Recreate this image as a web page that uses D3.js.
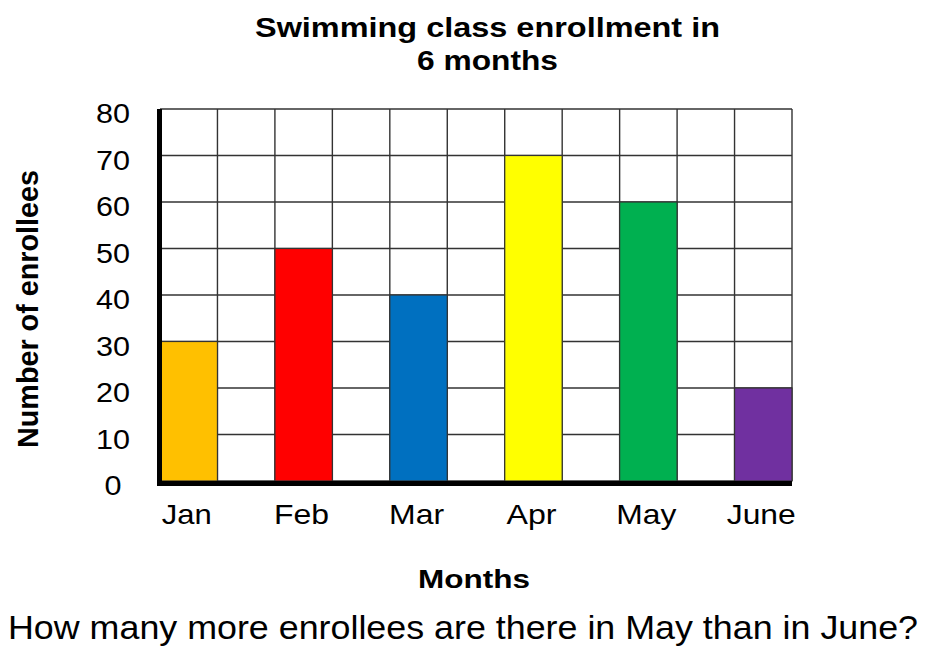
<!DOCTYPE html>
<html>
<head>
<meta charset="utf-8">
<script src="https://cdn.jsdelivr.net/npm/d3@7"></script>
<style>
  html, body { margin: 0; padding: 0; background: #fff; }
  text { font-family: "Liberation Sans", Arial, sans-serif; fill: #000; }
</style>
</head>
<body>
<svg id="chart"></svg>
<script>
// data
const months = ["Jan", "Feb", "Mar", "Apr", "May", "June"];
const enrollees = [30, 50, 40, 70, 60, 20];
const barColors = ["#FFC000", "#FF0000", "#0070C0", "#FFFF00", "#00B050", "#7030A0"];
const yTicks = [0, 10, 20, 30, 40, 50, 60, 70, 80];

const width = 940, height = 657;
const plot = { left: 160, right: 792, top: 109, bottom: 481 };

const svg = d3.select("#chart")
    .attr("width", width)
    .attr("height", height);

const x = d3.scaleBand()
    .domain(months)
    .range([plot.left, plot.right])
    .paddingInner(0.5)
    .paddingOuter(0);

const y = d3.scaleLinear()
    .domain([0, 80])
    .range([plot.bottom, plot.top]);

// horizontal grid
svg.append("g")
    .selectAll("line")
    .data(yTicks)
    .enter()
    .append("line")
    .attr("x1", plot.left).attr("x2", plot.right)
    .attr("y1", d => y(d)).attr("y2", d => y(d))
    .attr("stroke", "#333").attr("stroke-width", 1.4);

// vertical grid: both edges of every bar slot
const edges = [];
months.forEach(m => { edges.push(x(m)); edges.push(x(m) + x.bandwidth()); });
svg.append("g")
    .selectAll("line")
    .data(edges)
    .enter()
    .append("line")
    .attr("x1", d => d).attr("x2", d => d)
    .attr("y1", plot.top).attr("y2", plot.bottom)
    .attr("stroke", "#333").attr("stroke-width", 1.4);

// bars
svg.append("g")
    .selectAll("rect")
    .data(months)
    .enter()
    .append("rect")
    .attr("x", d => x(d))
    .attr("width", x.bandwidth())
    .attr("y", (d, i) => y(enrollees[i]))
    .attr("height", (d, i) => y(0) - y(enrollees[i]))
    .attr("fill", (d, i) => barColors[i])
    .attr("stroke", "#333")
    .attr("stroke-width", 1.2);

// thick axes
svg.append("line")
    .attr("x1", plot.left - 0.5).attr("x2", plot.left - 0.5)
    .attr("y1", plot.top).attr("y2", plot.bottom + 5)
    .attr("stroke", "#000").attr("stroke-width", 5);
svg.append("line")
    .attr("x1", plot.left - 3).attr("x2", plot.right)
    .attr("y1", plot.bottom + 2.5).attr("y2", plot.bottom + 2.5)
    .attr("stroke", "#000").attr("stroke-width", 5);

// y tick labels
svg.append("g")
    .selectAll("text")
    .data(yTicks)
    .enter()
    .append("text")
    .attr("x", 113)
    .attr("y", d => y(d) + 14)
    .attr("text-anchor", "middle")
    .attr("font-size", 28)
    .attr("textLength", 34)
    .attr("lengthAdjust", "spacingAndGlyphs")
    .text(d => d)
    .filter(d => d < 10)
    .attr("textLength", 17);

// month labels
const monthWidths = [50, 55, 55, 50, 60, 69];
svg.append("g")
    .selectAll("text")
    .data(months)
    .enter()
    .append("text")
    .attr("x", d => x(d) + x.bandwidth() / 2 - 2)
    .attr("y", 524)
    .attr("text-anchor", "middle")
    .attr("font-size", 28)
    .attr("textLength", (d, i) => monthWidths[i])
    .attr("lengthAdjust", "spacingAndGlyphs")
    .text(d => d);

// title
svg.append("text")
    .attr("x", 487.5).attr("y", 37)
    .attr("text-anchor", "middle")
    .attr("font-size", 27).attr("font-weight", "bold")
    .attr("textLength", 465).attr("lengthAdjust", "spacingAndGlyphs")
    .text("Swimming class enrollment in");
svg.append("text")
    .attr("x", 487.5).attr("y", 70)
    .attr("text-anchor", "middle")
    .attr("font-size", 27).attr("font-weight", "bold")
    .attr("textLength", 141).attr("lengthAdjust", "spacingAndGlyphs")
    .text("6 months");

// axis titles
svg.append("text")
    .attr("x", 474).attr("y", 588)
    .attr("text-anchor", "middle")
    .attr("font-size", 25).attr("font-weight", "bold")
    .attr("textLength", 112).attr("lengthAdjust", "spacingAndGlyphs")
    .text("Months");
svg.append("text")
    .attr("transform", "translate(38,309) rotate(-90)")
    .attr("text-anchor", "middle")
    .attr("font-size", 30).attr("font-weight", "bold")
    .attr("textLength", 278).attr("lengthAdjust", "spacingAndGlyphs")
    .text("Number of enrollees");

// question below the chart
svg.append("text")
    .attr("x", 8).attr("y", 639)
    .attr("font-size", 34)
    .attr("textLength", 910).attr("lengthAdjust", "spacingAndGlyphs")
    .text("How many more enrollees are there in May than in June?");
</script>
</body>
</html>
